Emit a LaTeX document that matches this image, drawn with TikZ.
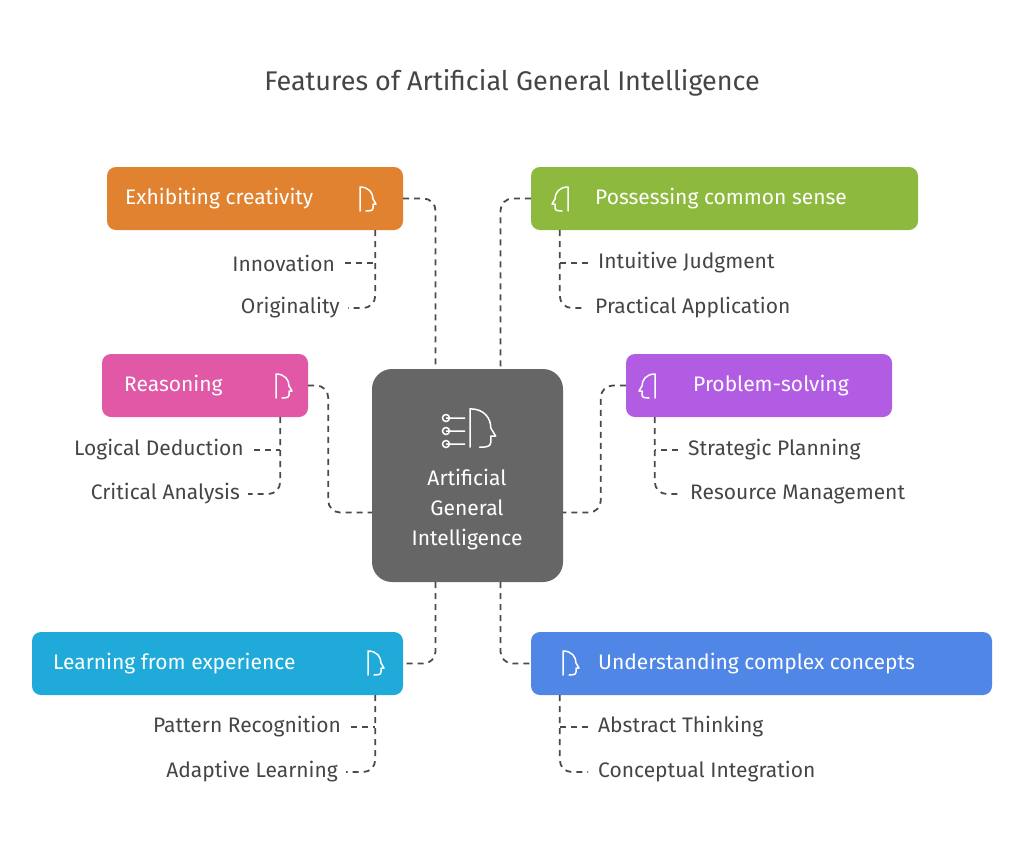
\documentclass[tikz,border=0pt]{standalone}
\usepackage{fontspec}
\setmainfont{Fira Sans}
\usetikzlibrary{positioning}
\definecolor{txtgray}{HTML}{454545}
\definecolor{linegray}{HTML}{4A4A4A}
\definecolor{hubgray}{HTML}{666666}
\definecolor{cOrange}{HTML}{E0822F}
\definecolor{cGreen}{HTML}{8DBA3E}
\definecolor{cPink}{HTML}{E058A6}
\definecolor{cPurple}{HTML}{B25CE3}
\definecolor{cCyan}{HTML}{1FAAD9}
\definecolor{cBlue}{HTML}{5086E6}
\tikzset{featbox/.style={rectangle,rounded corners=9pt,minimum height=63pt,inner sep=0pt},
  feattext/.style={text=white,font=\fontsize{21}{25}\selectfont,inner sep=0pt},
  subtext/.style={text=txtgray,font=\fontsize{21}{25}\selectfont,inner sep=0pt},
  link/.style={draw=linegray,line width=1.8pt,dash pattern=on 6pt off 5pt,rounded corners=12pt},
  head/.pic={\draw[white,line width=1.5pt,line cap=round,line join=round]
      (0,12) -- (0,-12) .. controls (9,-12) and (13,-6) .. (13,0) -- (16,5) -- (13,5) -- (13,9)
      .. controls (13,12) and (9,12) .. (6,12);}
}
\begin{document}
\begin{tikzpicture}[x=1pt,y=-1pt]
                \useasboundingbox (0,0) rectangle (1024,847);
                \node[text=txtgray,font=\fontsize{27}{32}\selectfont] (title) at (512,83) {Features of Artificial General Intelligence};
                
                % Hub
                \node[fill=hubgray,rounded corners=20pt,minimum width=191pt,minimum height=213pt] (hub) at (467.5,475.5) {};
                \node[text=white,font=\fontsize{21}{30}\selectfont,align=center] (hubtext) at (467,510) {Artificial\\General\\Intelligence};
                \pic[scale=1.6] at (470,428) {head};
                \foreach \yy in {-10,3,16}
                    \draw[white,line width=1.5pt] (446,428+\yy) circle (3.5pt) -- (465,428+\yy);
                
                % Feature boxes
                \node[featbox,fill=cOrange,minimum width=296pt] (creat) at (255,198.5) {};
                \node[feattext,anchor=west] (creattext) at (125,199) {Exhibiting creativity};
                \node[featbox,fill=cGreen,minimum width=387pt] (sense) at (724.5,198.5) {};
                \node[feattext,anchor=west] (sensetext) at (595,199) {Possessing common sense};
                \node[featbox,fill=cPink,minimum width=206pt] (reason) at (205,385.5) {};
                \node[feattext,anchor=west] (reasontext) at (124,386) {Reasoning};
                \node[featbox,fill=cPurple,minimum width=266pt] (solve) at (759,385.5) {};
                \node[feattext,anchor=west] (solvetext) at (693,386) {Problem-solving};
                \node[featbox,fill=cCyan,minimum width=371pt] (learn) at (217.5,663.5) {};
                \node[feattext,anchor=west] (learntext) at (53,664) {Learning from experience};
                \node[featbox,fill=cBlue,minimum width=461pt] (concept) at (761.5,663.5) {};
                \node[feattext,anchor=west] (concepttext) at (598,664) {Understanding complex concepts};
                
                % Icons
                \pic at (360,199) {head};
                \pic[xscale=-1] at (568,199) {head};
                \pic at (276,386) {head};
                \pic[xscale=-1] at (655,386) {head};
                \pic at (368,663) {head};
                \pic at (563,663) {head};
                
                % Sub items
                \node[subtext,anchor=east] (innov) at (335,263) {Innovation};
                \node[subtext,anchor=east] (orig) at (340,308) {Originality};
                \node[subtext,anchor=west] (intuit) at (598,263) {Intuitive Judgment};
                \node[subtext,anchor=west] (pract) at (595,308) {Practical Application};
                \node[subtext,anchor=east] (logic) at (244,450) {Logical Deduction};
                \node[subtext,anchor=east] (crit) at (240,494) {Critical Analysis};
                \node[subtext,anchor=west] (strat) at (688,450) {Strategic Planning};
                \node[subtext,anchor=west] (resrc) at (690,494) {Resource Management};
                \node[subtext,anchor=east] (pattern) at (341,727) {Pattern Recognition};
                \node[subtext,anchor=east] (adapt) at (338,772) {Adaptive Learning};
                \node[subtext,anchor=west] (abstr) at (598,727) {Abstract Thinking};
                \node[subtext,anchor=west] (integ) at (598,772) {Conceptual Integration};
                
                % Sub connectors
                \draw[link] ([xshift=-28pt]creat.south east) |- ([xshift=8pt]orig.east);
                \draw[link] ([xshift=10pt]innov.east) -- ([xshift=40pt]innov.east);
                \draw[link] ([xshift=29pt]sense.south west) |- ([xshift=-10pt]pract.west);
                \draw[link] ([xshift=-10pt]intuit.west) -- ([xshift=-38pt]intuit.west);
                \draw[link] ([xshift=-28pt]reason.south east) |- ([xshift=8pt]crit.east);
                \draw[link] ([xshift=10pt]logic.east) -- ([xshift=36pt]logic.east);
                \draw[link] ([xshift=29pt]solve.south west) |- ([xshift=-10pt]resrc.west);
                \draw[link] ([xshift=-10pt]strat.west) -- ([xshift=-33pt]strat.west);
                \draw[link] ([xshift=-28pt]learn.south east) |- ([xshift=8pt]adapt.east);
                \draw[link] ([xshift=10pt]pattern.east) -- ([xshift=34pt]pattern.east);
                \draw[link] ([xshift=29pt]concept.south west) |- ([xshift=-10pt]integ.west);
                \draw[link] ([xshift=-10pt]abstr.west) -- ([xshift=-38pt]abstr.west);
                
                % Hub connectors
                \draw[link] (creat.east) -| ([xshift=-32pt]hub.north);
                \draw[link] (sense.west) -| ([xshift=33pt]hub.north);
                \draw[link] (reason.east) -- ++(20,0) |- ([yshift=-37pt]hub.west);
                \draw[link] (solve.west) -- ++(-25,0) |- ([yshift=-37pt]hub.east);
                \draw[link] ([xshift=-32pt]hub.south) |- (learn.east);
                \draw[link] ([xshift=33pt]hub.south) |- (concept.west);
\end{tikzpicture}
\end{document}
